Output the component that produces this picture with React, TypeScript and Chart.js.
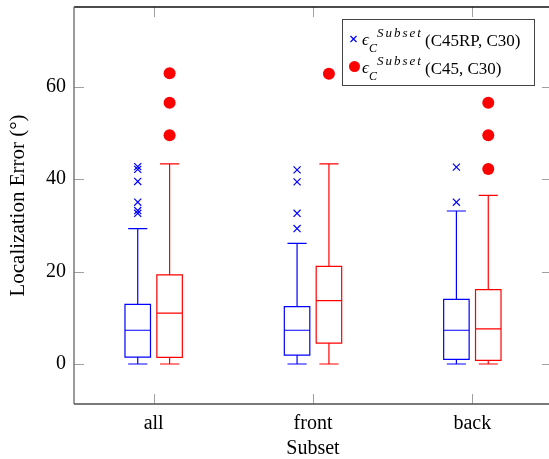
import React, { useEffect, useRef } from 'react';
import { Chart, registerables } from 'chart.js';

Chart.register(...registerables);

const categories = ['all', 'front', 'back'];
const yTicks = [0, 20, 40, 60];

// epsilon_C^Subset (C45RP, C30) — blue
const c45rpLow = [0, 0, 0];
const c45rpQ1 = [1.5, 1.9, 1.0];
const c45rpMedian = [7.3, 7.3, 7.3];
const c45rpQ3 = [12.9, 12.4, 14.0];
const c45rpHigh = [29.3, 26.1, 33.1];
const c45rpOutliersAll = [42.7, 42.1, 39.5, 35.0, 33.2, 32.6];
const c45rpOutliersFront = [42.0, 39.4, 32.6, 29.3];
const c45rpOutliersBack = [42.6, 35.0];

// epsilon_C^Subset (C45, C30) — red
const c45Low = [0, 0, 0];
const c45Q1 = [1.45, 4.5, 0.8];
const c45Median = [11.0, 13.7, 7.6];
const c45Q3 = [19.3, 21.1, 16.1];
const c45High = [43.3, 43.3, 36.5];
const c45OutliersAll = [62.9, 56.5, 49.5];
const c45OutliersFront = [62.8];
const c45OutliersBack = [56.5, 49.5, 42.2];

const BLUE = '#0000ff';
const RED = '#ff0000';
const SERIF = '"Liberation Serif", "DejaVu Serif", serif';

const series = [
  { color: BLUE, offset: -0.1, low: c45rpLow, q1: c45rpQ1, med: c45rpMedian, q3: c45rpQ3, high: c45rpHigh },
  { color: RED, offset: 0.1, low: c45Low, q1: c45Q1, med: c45Median, q3: c45Q3, high: c45High },
];

const toPoints = (groups: number[][], offset: number) =>
  groups.flatMap((vals, i) => vals.map((v) => ({ x: i + offset, y: v })));

const boxPlugin = {
  id: 'boxes',
  beforeDatasetsDraw(chart: any) {
    const { ctx, scales } = chart;
    const x = scales.x;
    const y = scales.y;
    const boxHalf = x.getPixelForValue(0.08) - x.getPixelForValue(0);
    const capHalf = x.getPixelForValue(0.06) - x.getPixelForValue(0);
    ctx.save();
    ctx.lineWidth = 1.2;
    series.forEach((s) => {
      ctx.strokeStyle = s.color;
      categories.forEach((_, i) => {
        const cx = x.getPixelForValue(i + s.offset);
        const yl = y.getPixelForValue(s.low[i]);
        const y1 = y.getPixelForValue(s.q1[i]);
        const ym = y.getPixelForValue(s.med[i]);
        const y3 = y.getPixelForValue(s.q3[i]);
        const yh = y.getPixelForValue(s.high[i]);
        ctx.beginPath();
        ctx.rect(cx - boxHalf, y3, boxHalf * 2, y1 - y3);
        ctx.moveTo(cx - boxHalf, ym);
        ctx.lineTo(cx + boxHalf, ym);
        ctx.moveTo(cx, y3);
        ctx.lineTo(cx, yh);
        ctx.moveTo(cx - capHalf, yh);
        ctx.lineTo(cx + capHalf, yh);
        ctx.moveTo(cx, y1);
        ctx.lineTo(cx, yl);
        ctx.moveTo(cx - capHalf, yl);
        ctx.lineTo(cx + capHalf, yl);
        ctx.stroke();
      });
    });
    ctx.restore();
  },
  afterDraw(chart: any) {
    const { ctx, chartArea, scales } = chart;
    const { left, right, top, bottom } = chartArea;
    const x = scales.x;
    const y = scales.y;
    ctx.save();
    // inward ticks
    ctx.strokeStyle = '#a0a0a0';
    ctx.lineWidth = 1;
    ctx.beginPath();
    yTicks.forEach((t) => {
      const py = Math.round(y.getPixelForValue(t)) + 0.5;
      ctx.moveTo(left, py);
      ctx.lineTo(left + 10, py);
      ctx.moveTo(right, py);
      ctx.lineTo(right - 10, py);
    });
    categories.forEach((_, i) => {
      const px = Math.round(x.getPixelForValue(i)) + 0.5;
      ctx.moveTo(px, bottom);
      ctx.lineTo(px, bottom - 10);
      ctx.moveTo(px, top);
      ctx.lineTo(px, top + 10);
    });
    ctx.stroke();
    // frame
    ctx.lineWidth = 1.4;
    ctx.strokeStyle = '#111';
    ctx.beginPath();
    ctx.moveTo(left, top);
    ctx.lineTo(right, top);
    ctx.stroke();
    ctx.strokeStyle = '#707070';
    ctx.beginPath();
    ctx.moveTo(left, top);
    ctx.lineTo(left, bottom);
    ctx.stroke();
    ctx.strokeStyle = '#505050';
    ctx.beginPath();
    ctx.moveTo(left, bottom);
    ctx.lineTo(right, bottom);
    ctx.lineTo(right, top);
    ctx.stroke();

    // legend
    const lx = 342.5;
    const ly = 19.5;
    const lw = 192;
    const lh = 66;
    ctx.fillStyle = '#fff';
    ctx.fillRect(lx, ly, lw, lh);
    ctx.strokeStyle = '#444';
    ctx.lineWidth = 1;
    ctx.strokeRect(lx, ly, lw, lh);

    const rows = [
      { label: '(C45RP, C30)', base: 46, marker: 'cross', color: BLUE },
      { label: '(C45, C30)', base: 73.5, marker: 'dot', color: RED },
    ];
    rows.forEach((r) => {
      const my = r.base - 7;
      if (r.marker === 'cross') {
        ctx.strokeStyle = r.color;
        ctx.lineWidth = 1.2;
        ctx.beginPath();
        const d = 3;
        ctx.moveTo(353.5 - d, my - d);
        ctx.lineTo(353.5 + d, my + d);
        ctx.moveTo(353.5 - d, my + d);
        ctx.lineTo(353.5 + d, my - d);
        ctx.stroke();
      } else {
        ctx.fillStyle = r.color;
        ctx.beginPath();
        ctx.arc(354.5, my, 5.5, 0, Math.PI * 2);
        ctx.fill();
      }
      ctx.fillStyle = '#000';
      ctx.textBaseline = 'alphabetic';
      ctx.textAlign = 'left';
      ctx.font = `italic 17px ${SERIF}`;
      ctx.fillText('\u03f5', 362, r.base - 1);
      ctx.font = `italic 12px ${SERIF}`;
      ctx.fillText('C', 369, r.base + 6);
      ctx.font = `italic 13px ${SERIF}`;
      (ctx as any).letterSpacing = '2px';
      ctx.fillText('Subset', 377, r.base - 9);
      (ctx as any).letterSpacing = '0px';
      ctx.font = `17px ${SERIF}`;
      ctx.fillText(r.label, 425, r.base);
    });
    ctx.restore();
  },
};

export default function App() {
  const ref = useRef<HTMLCanvasElement | null>(null);
  useEffect(() => {
    if (!ref.current) return;
    const chart = new Chart(ref.current, {
      type: 'scatter',
      data: {
        datasets: [
          {
            label: 'C45RP, C30',
            data: toPoints([c45rpOutliersAll, c45rpOutliersFront, c45rpOutliersBack], -0.1),
            pointStyle: 'crossRot',
            radius: 5,
            borderColor: BLUE,
            backgroundColor: BLUE,
            borderWidth: 1.2,
          },
          {
            label: 'C45, C30',
            data: toPoints([c45OutliersAll, c45OutliersFront, c45OutliersBack], 0.1),
            pointStyle: 'circle',
            radius: 6,
            borderWidth: 0,
            backgroundColor: RED,
            borderColor: RED,
          },
        ],
      },
      options: {
        responsive: false,
        animation: false,
        devicePixelRatio: 1,
        layout: { padding: { left: 0, top: 7, right: 8, bottom: 0 } },
        plugins: { legend: { display: false }, tooltip: { enabled: false } },
        scales: {
          x: {
            type: 'linear',
            min: -0.5,
            max: 2.5,
            grid: { display: false, drawTicks: false },
            border: { display: false },
            afterBuildTicks: (s: any) => {
              s.ticks = categories.map((_, i) => ({ value: i }));
            },
            afterFit: (s: any) => {
              s.height = 55;
              s.paddingLeft = 0;
              s.paddingRight = 0;
            },
            ticks: {
              color: '#000',
              padding: 8,
              font: { family: SERIF, size: 20 },
              callback: (v: any) => categories[Math.round(Number(v))] ?? '',
            },
            title: {
              display: true,
              text: 'Subset',
              color: '#000',
              font: { family: SERIF, size: 20, lineHeight: 1 },
              padding: { top: 0, bottom: 0 },
            },
          },
          y: {
            type: 'linear',
            min: -8.655,
            max: 77.24,
            grid: { display: false, drawTicks: false },
            border: { display: false },
            afterBuildTicks: (s: any) => {
              s.ticks = yTicks.map((v) => ({ value: v }));
            },
            afterFit: (s: any) => {
              s.width = 74;
              s.paddingTop = 0;
              s.paddingBottom = 0;
            },
            ticks: {
              color: '#000',
              padding: 8,
              font: { family: SERIF, size: 20 },
              callback: (v: any) => String(v),
            },
            title: {
              display: true,
              text: 'Localization Error (°)',
              color: '#000',
              font: { family: SERIF, size: 21 },
              padding: { top: 6, bottom: 0 },
            },
          },
        },
      },
      plugins: [boxPlugin],
    } as any);
    return () => chart.destroy();
  }, []);
  return (
    <div
      style={{
        position: 'fixed',
        left: 0,
        top: 0,
        width: 549,
        height: 459,
        overflow: 'hidden',
        background: '#fff',
      }}
    >
      <canvas ref={ref} width={560} height={459} style={{ width: 560, height: 459, display: 'block' }} />
    </div>
  );
}
